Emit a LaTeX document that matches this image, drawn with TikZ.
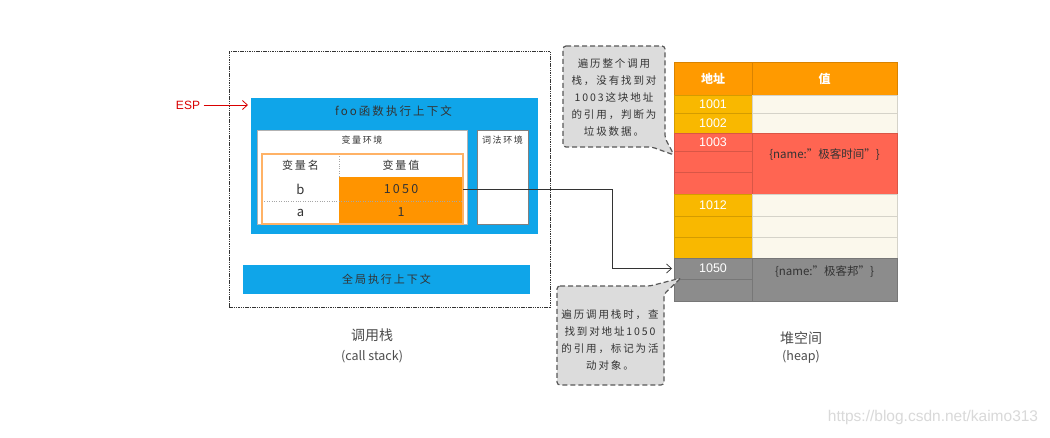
\documentclass[tikz,border=0pt]{standalone}
\usepackage{fontspec}
\setmainfont{Noto Sans CJK SC}
\newfontfamily\hand[LetterSpace=18]{Noto Sans CJK SC}
\newfontfamily\arial{Liberation Sans}
\usetikzlibrary{arrows.meta}

\definecolor{stackblue}{HTML}{0FA5E9}
\definecolor{valorange}{HTML}{FF9400}
\definecolor{headorange}{HTML}{FF9A00}
\definecolor{addryellow}{HTML}{F9B800}
\definecolor{cream}{HTML}{FBF8EC}
\definecolor{garbred}{HTML}{FF6552}
\definecolor{livegray}{HTML}{8C8C8C}
\definecolor{notegray}{HTML}{DCDCDC}
\definecolor{inkgray}{HTML}{333333}

\tikzset{
  box/.style={inner sep=0pt, outer sep=0pt},
  cell/.style={box, fill=#1, draw=#1!85!black, line width=0.4pt},
  tcell/.style={box, fill=#1, text=inkgray, font=\hand\fontsize{11}{11}\selectfont},
  addr/.style={text=white, font=\arial\fontsize{12.5}{12.5}\selectfont},
  objtxt/.style={text=inkgray, font=\fontsize{11.5}{11.5}\selectfont},
  callout/.style={draw=black!65, fill=notegray, line width=1.2pt, dash pattern=on 5pt off 3pt, rounded corners=3pt},
  notetxt/.style={text=inkgray, align=center, font=\hand\fontsize{10.5}{17}\selectfont},
  caption/.style={text=black!70, font=\fontsize{14}{14}\selectfont},
  barb/.style={-{Straight Barb[length=5pt,width=9pt]}}
}

\begin{document}
\begin{tikzpicture}[x=1pt, y=-1pt]
    \fill[white] (0,0) rectangle (1050,437);
    \useasboundingbox (0,0) rectangle (1050,437);

    % --- Call stack ---
    \node[box, draw=black!80, line width=1pt, dash pattern=on 1.5pt off 0.8pt, minimum width=321pt, minimum height=256pt] (stack) at (389.5,179) {};

    % foo context
    \node[box, fill=stackblue, minimum width=287pt, minimum height=136pt] (foo) at (394.5,166) {};
    \node[text=inkgray, font=\hand\fontsize{11.5}{11.5}\selectfont] (footitle) at (393.5,111) {foo函数执行上下文};

    % variable / lexical environment
    \node[box, fill=white, draw=black!30, minimum width=210pt, minimum height=94pt] (varenv) at (362,177) {};
    \node[text=inkgray, font=\hand\fontsize{9}{9}\selectfont] (vartitle) at (362,140) {变量环境};
    \node[box, fill=white, draw=black!50, minimum width=51pt, minimum height=94pt] (lexenv) at (502.5,177) {};
    \node[text=inkgray, font=\hand\fontsize{9}{9}\selectfont] (lextitle) at (502.5,140) {词法环境};

    % variable table
    \node[tcell=white, minimum width=77pt, minimum height=23pt] (hname) at (300.5,165.5) {变量名};
    \node[tcell=white, minimum width=124pt, minimum height=23pt] (hval) at (401,165.5) {变量值};
    \node[tcell=white, minimum width=77pt, minimum height=24pt, font=\hand\fontsize{13}{13}\selectfont] (nb) at (300.5,189) {b};
    \node[tcell=valorange, minimum width=124pt, minimum height=24pt, font=\hand\fontsize{12.5}{13}\selectfont] (vb) at (401,189) {1050};
    \node[tcell=white, minimum width=77pt, minimum height=23pt, font=\hand\fontsize{13}{13}\selectfont] (na) at (300.5,212.5) {a};
    \node[tcell=valorange, minimum width=124pt, minimum height=23pt, font=\hand\fontsize{12.5}{13}\selectfont] (va) at (401,212.5) {1};
    \draw[black!35, dotted] (hname.north east) -- (hname.south east);
    \draw[black!35, dotted] (nb.south west) -- (vb.south east);
    \draw[orange!60, line width=1.2pt] (hname.north west) rectangle (va.south east);

    % global context
    \node[box, fill=stackblue, minimum width=287pt, minimum height=29pt, text=inkgray, font=\hand\fontsize{11}{11}\selectfont] (global) at (386.5,279.5) {全局执行上下文};

    % ESP pointer
    \node[text=red!85!black, font=\arial\fontsize{12}{12}\selectfont] (esp) at (188,105) {ESP};
    \draw[red!85!black, line width=0.8pt, barb, shorten >=3pt] (esp.east) -- (foo.west |- esp.east);

    % --- Heap ---
    \node[cell=headorange, minimum width=78pt, minimum height=33pt, text=white, font=\bfseries\fontsize{12}{12}\selectfont] (ahead) at (713,78.5) {地址};
    \node[cell=headorange, minimum width=145pt, minimum height=33pt, text=white, font=\bfseries\fontsize{12}{12}\selectfont] (vhead) at (824.5,78.5) {值};

    \node[cell=addryellow, minimum width=78pt, minimum height=18pt, addr] (a1001) at (713,104) {1001};
    \node[cell=addryellow, minimum width=78pt, minimum height=20pt, addr] (a1002) at (713,123) {1002};
    \node[cell=garbred, minimum width=78pt, minimum height=18pt, addr] (a1003) at (713,142) {1003};
    \node[cell=garbred, minimum width=78pt, minimum height=21pt] (a1003b) at (713,161.5) {};
    \node[cell=garbred, minimum width=78pt, minimum height=22pt] (a1003c) at (713,183) {};
    \node[cell=addryellow, minimum width=78pt, minimum height=22pt, addr] (a1012) at (713,205) {1012};
    \node[cell=addryellow, minimum width=78pt, minimum height=21pt] (a1012b) at (713,226.5) {};
    \node[cell=addryellow, minimum width=78pt, minimum height=21pt] (a1012c) at (713,247.5) {};
    \node[cell=livegray, minimum width=78pt, minimum height=21pt, addr] (a1050) at (713,268.5) {1050};
    \node[cell=livegray, minimum width=78pt, minimum height=22pt] (a1050b) at (713,290) {};

    \node[cell=cream, minimum width=145pt, minimum height=18pt] (v1001) at (824.5,104) {};
    \node[cell=cream, minimum width=145pt, minimum height=20pt] (v1002) at (824.5,123) {};
    \node[cell=garbred, minimum width=145pt, minimum height=61pt] (v1003) at (824.5,163.5) {};
    \node[cell=cream, minimum width=145pt, minimum height=22pt] (v1012) at (824.5,205) {};
    \node[cell=cream, minimum width=145pt, minimum height=21pt] (v1012b) at (824.5,226.5) {};
    \node[cell=cream, minimum width=145pt, minimum height=21pt] (v1012c) at (824.5,247.5) {};
    \node[cell=livegray, minimum width=145pt, minimum height=43pt] (v1050) at (824.5,279.5) {};

    \node[objtxt] (obj1003) at (824.5,155) {\{name:"极客时间"\}};
    \node[objtxt] (obj1050) at (824.5,272) {\{name:"极客邦"\}};

    % reference from b to address 1050
    \coordinate (turn) at (612,0);
    \draw[black!80, line width=0.7pt, barb, shorten >=2pt] (vb.east) -- (vb.east -| turn) |- (a1050.west);

    % --- Callouts ---
    \draw[callout] (563,46) -- (665,46) -- (665,138) -- (674,155) -- (652,147) -- (563,147) -- cycle;
    \node[notetxt] (note1) at (614,98) {遍历整个调用\\栈，没有找到对\\1003这块地址\\的引用，判断为\\垃圾数据。};

    \draw[callout] (557,286) -- (650,286) -- (681,278) -- (664,294) -- (664,385) -- (557,385) -- cycle;
    \node[notetxt] (note2) at (610,340) {遍历调用栈时，查\\找到对地址1050\\的引用，标记为活\\动对象。};

    % --- Captions ---
    \node[caption] (stacklbl) at (372,335) {调用栈};
    \node[caption, font=\fontsize{12.5}{12.5}\selectfont] (stackeng) at (372,357) {(call stack)};
    \node[caption] (heaplbl) at (801,338) {堆空间};
    \node[caption, font=\fontsize{12.5}{12.5}\selectfont] (heapeng) at (801,357) {(heap)};

    \node[text=black!15, font=\arial\fontsize{15.5}{15.5}\selectfont] (mark) at (933,417) {https://blog.csdn.net/kaimo313};
\end{tikzpicture}
\end{document}
